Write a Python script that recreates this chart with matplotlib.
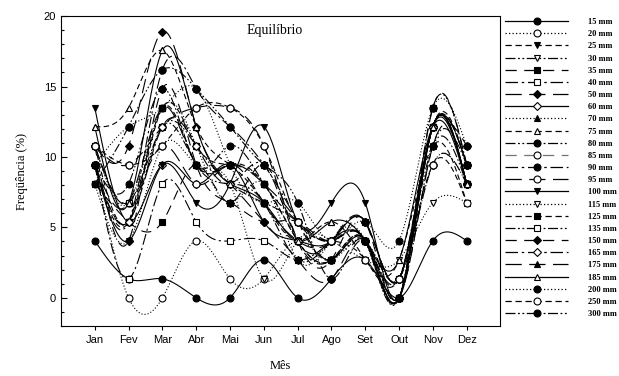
import numpy as np
import matplotlib
matplotlib.use("Agg")
import matplotlib.pyplot as plt
from matplotlib.lines import Line2D

months = ["Jan", "Fev", "Mar", "Abr", "Mai", "Jun", "Jul", "Ago", "Set", "Out", "Nov", "Dez"]
labels = ["15 mm", "20 mm", "25 mm", "30 mm", "35 mm", "40 mm", "50 mm", "60 mm", "70 mm",
          "75 mm", "80 mm", "85 mm", "90 mm", "95 mm", "100 mm", "115 mm", "125 mm", "135 mm",
          "150 mm", "165 mm", "175 mm", "185 mm", "200 mm", "250 mm", "300 mm"]

s15  = [4.05, 1.35, 1.35, 0, 0, 2.7, 0, 1.35, 2.7, 0, 4.05, 4.05]
s20  = [9.46, 0, 0, 4.05, 1.35, 1.35, 4.05, 2.7, 4.05, 1.35, 9.46, 8.1]
s25  = [10.8, 5.4, 13.5, 10.8, 9.46, 8.1, 4.05, 2.7, 4.05, 0, 12.16, 9.46]
s30  = [9.46, 5.4, 12.16, 9.46, 8.1, 6.76, 2.7, 4.05, 4.05, 1.35, 10.8, 8.1]
s35  = [8.1, 5.4, 5.4, 9.46, 6.76, 9.46, 4.05, 2.7, 5.4, 0, 13.5, 9.46]
s40  = [9.46, 1.35, 8.1, 5.4, 4.05, 4.05, 2.7, 4.05, 4.05, 1.35, 12.16, 9.46]
s50  = [10.8, 10.8, 18.9, 12.16, 8.1, 5.4, 2.7, 1.35, 4.05, 0, 10.8, 10.8]
s60  = [9.46, 4.05, 9.46, 8.1, 9.46, 5.4, 4.05, 4.05, 5.4, 1.35, 12.16, 8.1]
s70  = [10.8, 6.76, 13.5, 10.8, 6.76, 8.1, 2.7, 4.05, 4.05, 0, 12.16, 8.1]
s75  = [12.16, 13.5, 17.57, 12.16, 9.46, 6.76, 4.05, 5.4, 2.7, 2.7, 10.8, 6.76]
s80  = [9.46, 8.1, 14.86, 9.46, 10.8, 8.1, 5.4, 4.05, 4.05, 0, 13.5, 9.46]
s85  = [10.8, 9.46, 12.16, 13.5, 13.5, 10.8, 4.05, 2.7, 4.05, 1.35, 9.46, 8.1]
s90  = [9.46, 5.4, 16.2, 14.86, 12.16, 9.46, 5.4, 2.7, 4.05, 0, 12.16, 8.1]
s95  = [10.8, 6.76, 10.8, 8.1, 9.46, 6.76, 4.05, 4.05, 5.4, 1.35, 12.16, 9.46]
s100 = [13.5, 5.4, 9.46, 6.76, 8.1, 12.16, 5.4, 6.76, 6.76, 0, 12.16, 8.1]
s115 = [8.1, 4.05, 10.8, 9.46, 8.1, 1.35, 4.05, 4.05, 2.7, 2.7, 6.76, 6.76]
s125 = [9.46, 5.4, 13.5, 9.46, 9.46, 8.1, 4.05, 2.7, 4.05, 0, 12.16, 8.1]
s135 = [10.8, 6.76, 12.16, 10.8, 8.1, 6.76, 5.4, 4.05, 4.05, 0, 12.16, 8.1]
s150 = [10.8, 4.05, 14.86, 9.46, 6.76, 5.4, 5.4, 4.05, 4.05, 0, 12.16, 8.1]
s165 = [9.46, 5.4, 12.16, 10.8, 8.1, 9.46, 4.05, 4.05, 5.4, 1.35, 12.16, 9.46]
s175 = [9.46, 6.76, 13.5, 9.46, 9.46, 8.1, 5.4, 2.7, 4.05, 0, 12.16, 8.1]
s185 = [12.16, 6.76, 17.57, 12.16, 8.1, 6.76, 4.05, 5.4, 4.05, 2.7, 12.16, 8.1]
s200 = [9.46, 12.16, 13.5, 14.86, 9.46, 6.76, 6.76, 4.05, 5.4, 4.05, 13.5, 10.8]
s250 = [10.8, 9.46, 10.8, 13.5, 13.5, 10.8, 5.4, 4.05, 2.7, 1.35, 9.46, 6.76]
s300 = [8.1, 12.16, 16.2, 14.86, 12.16, 9.46, 6.76, 1.35, 4.05, 0, 10.8, 9.46]

series = [s15, s20, s25, s30, s35, s40, s50, s60, s70, s75, s80, s85, s90, s95,
          s100, s115, s125, s135, s150, s165, s175, s185, s200, s250, s300]

# styles
ls_cycle = ['-', (0, (1, 1.8)), (0, (5, 3)), (0, (8, 2, 1.5, 2, 1.5, 2)),
            (0, (9, 6)), (0, (10, 3, 2, 3)), (0, (13, 6))]
mk_cycle = [('o', 'k'), ('o', 'w'), ('v', 'k'), ('v', 'w'), ('s', 'k'), ('s', 'w'),
            ('D', 'k'), ('D', 'w'), ('^', 'k'), ('^', 'w'), ('o', 'k'), ('o', 'w')]


def spline(x, y, n=400):
    x = np.asarray(x, float)
    y = np.asarray(y, float)
    k = len(x)
    h = np.diff(x)
    A = np.zeros((k, k))
    b = np.zeros(k)
    A[0, 0] = 1
    A[-1, -1] = 1
    for i in range(1, k - 1):
        A[i, i - 1] = h[i - 1]
        A[i, i] = 2 * (h[i - 1] + h[i])
        A[i, i + 1] = h[i]
        b[i] = 3 * ((y[i + 1] - y[i]) / h[i] - (y[i] - y[i - 1]) / h[i - 1])
    c = np.linalg.solve(A, b)
    xs = np.linspace(x[0], x[-1], n)
    ys = np.empty_like(xs)
    for j, xv in enumerate(xs):
        i = min(np.searchsorted(x, xv, side='right') - 1, k - 2)
        dx = xv - x[i]
        bi = (y[i + 1] - y[i]) / h[i] - h[i] * (2 * c[i] + c[i + 1]) / 3
        di = (c[i + 1] - c[i]) / (3 * h[i])
        ys[j] = y[i] + bi * dx + c[i] * dx ** 2 + di * dx ** 3
    return xs, ys


fig = plt.figure(figsize=(6.19, 3.76), dpi=100)
ax = fig.add_axes([0.0985, 0.133, 0.71, 0.824])

x = np.arange(1, 13)
handles = []
for i, (lab, s) in enumerate(zip(labels, series)):
    ls = ls_cycle[i % 7]
    mk, fc = mk_cycle[i % 12]
    col = '0.45' if lab == "85 mm" else 'k'
    xs, ys = spline(x, s)
    ax.plot(xs, ys, color='k', lw=0.8, linestyle=ls, zorder=2)
    ms = 5.0 if mk != 'D' else 4.3
    ax.plot(x, s, linestyle='none', marker=mk, ms=ms, mfc=fc, mec='k', mew=0.8, zorder=3)
    handles.append(Line2D([0], [0], color=col, lw=0.9, linestyle=ls, marker=mk,
                          ms=ms, mfc=fc, mec='k', mew=0.8))

ax.set_xlim(0, 13)
ax.set_ylim(-2, 20)
ax.set_xticks(x)
ax.set_xticklabels(months, fontfamily='Liberation Sans', fontsize=8)
ax.set_yticks([0, 5, 10, 15, 20])
ax.set_yticks(np.arange(-2, 21, 1), minor=True)
ax.set_yticklabels(['0', '5', '10', '15', '20'], fontfamily='Liberation Sans', fontsize=8)
ax.tick_params(axis='x', direction='out', length=3, width=0.8)
ax.tick_params(axis='y', which='major', direction='in', length=4, width=0.8)
ax.tick_params(axis='y', which='minor', direction='in', length=2.5, width=0.8)
for sp in ax.spines.values():
    sp.set_linewidth(0.8)

ax.set_ylabel("Freqüência (%)", fontfamily='Liberation Serif', fontsize=9, labelpad=11)
ax.set_xlabel("Mês", fontfamily='Liberation Serif', fontsize=9, labelpad=11)
ax.text(0.487, 0.955, "Equilíbrio", transform=ax.transAxes, ha='center', va='center',
        fontfamily='Liberation Serif', fontsize=10)

leg = fig.legend(handles, labels, loc='upper left', bbox_to_anchor=(0.816, 0.952),
                 frameon=False, handlelength=7.6, handletextpad=2.4,
                 labelspacing=0.5, borderaxespad=0, borderpad=0,
                 prop={'family': 'Liberation Serif', 'weight': 'bold', 'size': 6})

fig.savefig("out.png", dpi=100)
